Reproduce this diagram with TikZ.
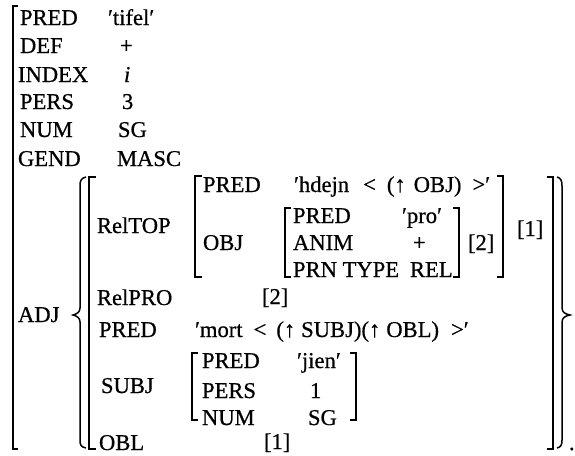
\documentclass[tikz,border=0pt]{standalone}
\usepackage{fontspec}
\setmainfont{Liberation Serif}[FakeBold=0.6]
\newcommand{\fsz}{\fontsize{22.6}{27}\selectfont}
\begin{document}
\begin{tikzpicture}[x=1pt,y=-1pt,
  txt/.style={anchor=base west, inner sep=0pt, outer sep=0pt, font=\fsz},
  brk/.style={line width=1.5pt, line cap=butt, line join=miter},
]
\useasboundingbox[fill=white] (0,0) rectangle (575,455);
% outer f-structure
\node[txt] (p1) at (20,25) {PRED};   \node[txt] (v1) at (108,25) {′tifel′};
\node[txt] (p2) at (20,53) {DEF};    \node[txt] (v2) at (120,53) {+};
\node[txt] (p3) at (18,82) {INDEX};  \node[txt] (v3) at (124,82) {\itshape i};
\node[txt] (p4) at (20,109) {PERS};  \node[txt] (v4) at (122,109) {3};
\node[txt] (p5) at (20,137) {NUM};   \node[txt] (v5) at (118,137) {SG};
\node[txt] (p6) at (18,166) {GEND};  \node[txt] (v6) at (117,166) {MASC};
\node[txt] (adj) at (18,322) {ADJ};
% set member
\node[txt] (rtop) at (97,233) {RelTOP};
\node[txt] (q1) at (203,192) {PRED};
\node[txt] (w1) at (294,192) {′hdejn\hspace{14pt}<\hspace{11pt}(↑\hspace{8pt}OBJ)\hspace{11pt}>′};
\node[txt] (q2) at (203,250) {OBJ};
\node[txt] (r1) at (293,223) {PRED};     \node[txt] (s1) at (402,223) {′pro′};
\node[txt] (r2) at (293,250) {ANIM};     \node[txt] (s2) at (413,250) {+};
\node[txt] (r3) at (293,277) {PRN TYPE}; \node[txt] (s3) at (410,277) {REL};
\node[txt] (t2a) at (468,250) {[2]};
\node[txt] (t1a) at (517,236) {[1]};
\node[txt] (rpro) at (97,305) {RelPRO};  \node[txt] (t2b) at (262,304) {[2]};
\node[txt] (pr) at (99,337) {PRED};
\node[txt] (mort) at (195,337) {′mort\hspace{11pt}<\hspace{10pt}(↑\hspace{6pt}SUBJ)(↑\hspace{6pt}OBL)\hspace{12pt}>′};
\node[txt] (subj) at (101,393) {SUBJ};
\node[txt] (u1) at (202,368) {PRED}; \node[txt] (x1) at (297,368) {′jien′};
\node[txt] (u2) at (202,398) {PERS}; \node[txt] (x2) at (310,398) {1};
\node[txt] (u3) at (202,425) {NUM};  \node[txt] (x3) at (308,425) {SG};
\node[txt] (obl) at (99,450) {OBL};  \node[txt] (t1b) at (264,449) {[1]};
\node[txt] (dot) at (569,450) {.};
% outer left bracket
\draw[brk] (18,6) -- (13,6) -- (13,449) -- (18,449);
% left brace
\draw[brk] (86,177) .. controls (81,178) and (80,181) .. (80,186) -- (80,308)
  .. controls (80,312) and (77,314) .. (73,315) .. controls (77,316) and (80,318) .. (80,322)
  -- (80,440) .. controls (80,445) and (81,447) .. (86,448);
% inner set member bracket
\draw[brk] (96,177) -- (89,177) -- (89,449) -- (96,449);
\draw[brk] (547,177) -- (553,177) -- (553,449) -- (547,449);
% right brace
\draw[brk] (557,177) .. controls (561,178) and (562,181) .. (562,186) -- (562,308)
  .. controls (562,312) and (565,314) .. (570,315) .. controls (565,316) and (562,318) .. (562,322)
  -- (562,440) .. controls (562,445) and (561,447) .. (557,448);
% RelTOP brackets
\draw[brk] (202,176) -- (195,176) -- (195,277) -- (202,277);
\draw[brk] (497,176) -- (503,176) -- (503,277) -- (497,277);
% OBJ brackets
\draw[brk] (291,208) -- (285,208) -- (285,277) -- (291,277);
\draw[brk] (453,208) -- (459,208) -- (459,277) -- (453,277);
% SUBJ brackets
\draw[brk] (198,353) -- (192,353) -- (192,420) -- (198,420);
\draw[brk] (350,353) -- (356,353) -- (356,420) -- (350,420);
\end{tikzpicture}
\end{document}
